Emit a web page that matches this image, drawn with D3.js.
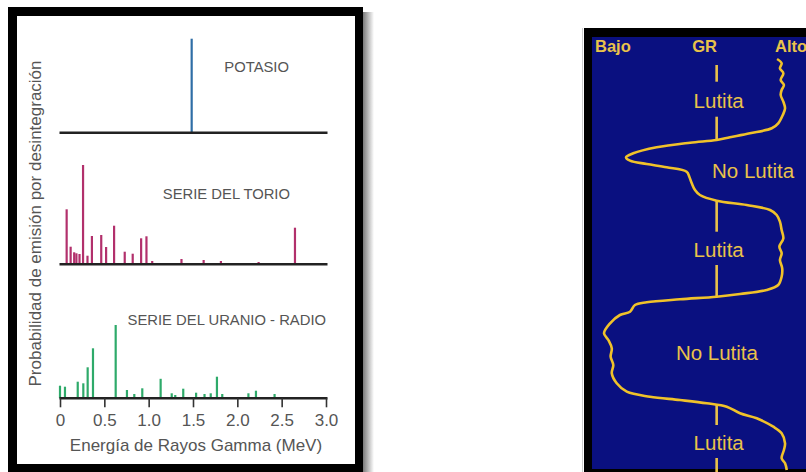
<!DOCTYPE html>
<html><head><meta charset="utf-8">
<script src="https://cdn.jsdelivr.net/npm/d3@7"></script>
<style>body{margin:0;background:#fff}svg{display:block}</style>
</head><body>
<svg id="c" width="806" height="472"></svg>
<script>
// ---------- Data: gamma-ray emission spectra ----------
const potasioE = [1.485];
const potasioP = [94];
const torioE = [0.075,0.12,0.16,0.185,0.22,0.26,0.31,0.36,0.465,0.52,0.61,0.73,0.82,0.915,0.975,1.04,1.37,1.62,1.815,2.24,2.65];
const torioP = [55,17.6,12,11,10.3,99.3,8.6,28.3,29.3,17.3,38.6,12.6,10.6,26,28,3.3,5.3,4.3,3.3,2.3,36.6];
const uranioE = [0,0.056,0.2,0.263,0.312,0.372,0.628,0.755,0.838,0.928,1.135,1.26,1.30,1.39,1.535,1.63,1.70,1.77,1.83,2.125,2.21,2.42];
const uranioP = [12.6,11.6,16.6,15,31,50,73.3,8.3,4.3,10,19.5,5,3.3,9.6,5.6,4.3,5,21.6,4.3,5,7.6,4.3];
const energyTicks = [0,0.5,1.0,1.5,2.0,2.5,3.0];
const seriesNames = ["POTASIO","SERIE DEL TORIO","SERIE DEL URANIO - RADIO"];
const yAxisTitle = "Probabilidad de emisión por desintegración";
const xAxisTitle = "Energía de Rayos Gamma (MeV)";

// ---------- Data: GR log ----------
const grValue = [93.2,95.6,94.7,96.5,95.1,96.8,95.6,95.1,96.5,97.4,96.2,93.8,90.4,78.9,68.4,61.4,47.4,29.8,17.5,13.7,15.8,24.6,35.1,45.6,47,48.3,50,52.6,61.4,77.2,89.5,93,94.7,95.6,96.5,94.4,95.6,94.7,95.9,95.6,93.8,87.7,73.7,61.4,42.1,24.6,18.4,15.8,10.5,5.3,2.1,4.4,6.2,5.6,7,6.2,8.8,14.1,26.3,42.1,56.2,66.7,73.7,82.5,91.2,95.6,97.4,96.8,95.6,97.4,98.3];
const grDepth = [0,4.3,9.3,14.3,21,26,31,36,42.7,49.3,56,64.3,69.3,74.3,78.3,81,83.7,88.3,94.3,98.3,101.7,105,108.3,112.7,117.7,124.3,131,136,141.7,146,151,156,162.7,171,179.3,187.7,194.3,201,209.3,217.7,226,231,235,237.7,240.3,243.3,246,252.7,256,264.3,274.3,281,289.3,297.7,306,314.3,324.3,332.7,337.7,341,344.3,347.7,354.3,359.3,367.7,374.3,384.3,391,399.3,404.3,411];
const grHeaders = ["Bajo","GR","Alto"];
const zoneNames = ["Lutita","No Lutita","Lutita","No Lutita","Lutita"];
const zoneDepths = [49,119,197.7,301,391];
const zoneGR = [61.4,79.5,61.4,60.5,61.4];
const shaleSegments = [[6,22.7],[57.7,81],[141,172.7],[206,237.7],[346,366],[399,413]];
const shaleLineGR = 61.4;

const svg = d3.select("#c");
const font = "'Liberation Sans', Arial, sans-serif";

// ================= LEFT PANEL =================
const defs = svg.append("defs");
const g1 = defs.append("linearGradient").attr("id","sh").attr("x1","0").attr("x2","1");
g1.append("stop").attr("offset","0").attr("stop-color","#7a7a7a");
g1.append("stop").attr("offset","1").attr("stop-color","#ffffff");
svg.append("rect").attr("x",363).attr("y",12).attr("width",11).attr("height",460).attr("fill","url(#sh)");
svg.append("rect").attr("x",8).attr("y",7).attr("width",355).attr("height",465).attr("fill","#000");
svg.append("rect").attr("x",17).attr("y",16).attr("width",338).attr("height",448).attr("fill","#fff");

const x = d3.scaleLinear().domain([0,3]).range([60,326]);
const baselines = [132.7,264.3,398.3];
const colors = ["#2f6ea6","#b2306c","#2eaa6a"];
const Es = [potasioE,torioE,uranioE];
const Ps = [potasioP,torioP,uranioP];

baselines.forEach((b,i)=>{
  const y = d3.scaleLinear().domain([0,100]).range([b,b-100]);
  const data = Es[i].map((e,k)=>({e,p:Ps[i][k]}));
  svg.append("g").selectAll("line").data(data).join("line")
    .attr("x1",d=>x(d.e)).attr("x2",d=>x(d.e))
    .attr("y1",y(0)).attr("y2",d=>y(d.p))
    .attr("stroke",colors[i]).attr("stroke-width",2.2);
  svg.append("line").attr("x1",x(0)-0.5).attr("x2",x(3)+1.5).attr("y1",b).attr("y2",b)
    .attr("stroke","#222").attr("stroke-width",2.6);
});

// x-axis ticks on bottom baseline
const ax = svg.append("g").attr("transform",`translate(0,${baselines[2]})`)
  .call(d3.axisBottom(x).tickValues(energyTicks).tickFormat((d,i)=>i===0?"0":d3.format(".1f")(d)).tickSize(9).tickPadding(7));
ax.select(".domain").remove();
ax.selectAll(".tick line").attr("stroke","#333").attr("stroke-width",1.6);
ax.selectAll(".tick text").attr("font-family",font).attr("font-size",17).attr("fill","#555");

// series labels
const labelPos = [[289,72],[290,199],[326,325]];
seriesNames.forEach((s,i)=>{
  svg.append("text").attr("x",labelPos[i][0]).attr("y",labelPos[i][1]).attr("text-anchor","end")
    .attr("font-family",font).attr("font-size",14.8).attr("fill","#555").text(s);
});
svg.append("text").attr("transform","translate(41,223.5) rotate(-90)").attr("text-anchor","middle")
  .attr("font-family",font).attr("font-size",17).attr("fill","#555").text(yAxisTitle);
svg.append("text").attr("x",196).attr("y",451).attr("text-anchor","middle")
  .attr("font-family",font).attr("font-size",17).attr("fill","#555").text(xAxisTitle);

// ================= RIGHT PANEL =================
svg.append("line").attr("x1",582.5).attr("x2",582.5).attr("y1",28).attr("y2",472).attr("stroke","#ccc");
svg.append("rect").attr("x",584).attr("y",28).attr("width",222).attr("height",444).attr("fill","#000");
svg.append("rect").attr("x",592).attr("y",37).attr("width",214).attr("height",432).attr("fill","#0a1080");

const gx = d3.scaleLinear().domain([0,100]).range([600,790]);
const gy = d3.scaleLinear().domain([0,411]).range([59,470]);
const yellow = "#e9c24a";

svg.append("g").selectAll("line").data(shaleSegments).join("line")
  .attr("x1",gx(shaleLineGR)).attr("x2",gx(shaleLineGR))
  .attr("y1",d=>gy(d[0])).attr("y2",d=>gy(d[1]))
  .attr("stroke",yellow).attr("stroke-width",2.6);

const pts = grValue.map((v,i)=>[gx(v),gy(grDepth[i])]);
svg.append("path").attr("d",d3.line().curve(d3.curveCatmullRom.alpha(0.5))(pts))
  .attr("fill","none").attr("stroke","#f0c22a").attr("stroke-width",2.6).attr("stroke-linejoin","round");

const hdrX = [595,717,775];
const hdrAnchor = ["start","end","start"];
grHeaders.forEach((h,i)=>{
  svg.append("text").attr("x",hdrX[i]).attr("y",51.5).attr("text-anchor",hdrAnchor[i])
    .attr("font-family",font).attr("font-weight","bold").attr("font-size",16.5).attr("fill",yellow).text(h);
});
zoneNames.forEach((z,i)=>{
  svg.append("text").attr("x",gx(zoneGR[i])+2).attr("y",gy(zoneDepths[i])).attr("text-anchor","middle")
    .attr("font-family",font).attr("font-size",20.5).attr("fill",yellow).text(z);
});
</script>
</body></html>
